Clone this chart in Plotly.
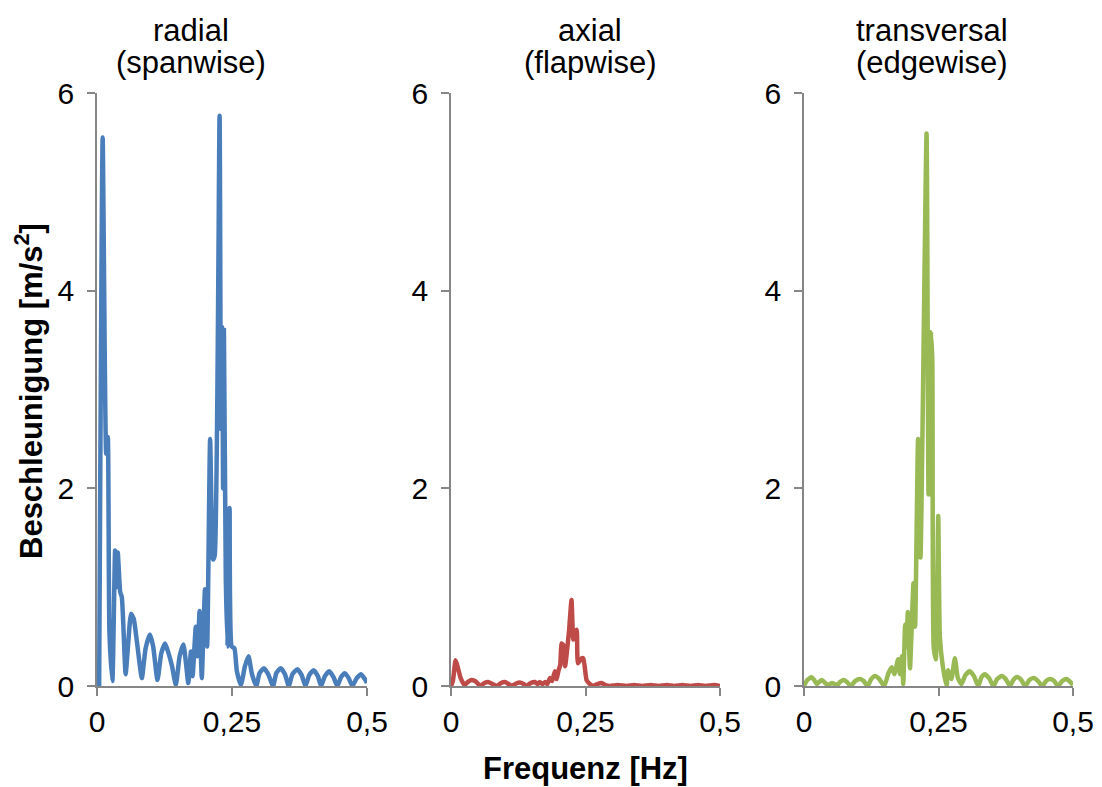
import plotly.graph_objects as go

# Amplitude spectra of blade accelerations (frequency in Hz, amplitude in m/s²)
radial_f = [0.004, 0.0105, 0.017, 0.020, 0.023, 0.0285, 0.0335, 0.036, 0.0385, 0.043, 0.046,
            0.053, 0.058, 0.063, 0.068, 0.075, 0.083, 0.090, 0.098, 0.104, 0.112, 0.119,
            0.126, 0.132, 0.139, 0.146, 0.153, 0.160, 0.165, 0.169, 0.174, 0.177, 0.183,
            0.186, 0.190, 0.194, 0.200, 0.204, 0.2095, 0.215, 0.218, 0.227, 0.2295, 0.232,
            0.2335, 0.235, 0.2385, 0.2415, 0.2455, 0.2495, 0.2545, 0.259, 0.2665, 0.274,
            0.2805, 0.287, 0.295, 0.301, 0.309, 0.317, 0.326, 0.332, 0.340, 0.348, 0.355,
            0.362, 0.371, 0.379, 0.386, 0.393, 0.401, 0.409, 0.415, 0.422, 0.430, 0.438,
            0.445, 0.452, 0.459, 0.466, 0.473, 0.481, 0.489, 0.496, 0.500]
radial_a = [0.00, 5.55, 2.35, 2.52, 0.55, 0.05, 1.37, 1.00, 1.35, 0.95, 0.90,
            0.12, 0.45, 0.73, 0.68, 0.40, 0.08, 0.38, 0.52, 0.40, 0.06, 0.33,
            0.43, 0.34, 0.20, 0.01, 0.30, 0.42, 0.22, 0.03, 0.35, 0.10, 0.60,
            0.30, 0.76, 0.08, 0.98, 0.40, 2.50, 1.28, 1.32, 5.77, 2.60, 3.63,
            2.00, 3.60, 1.10, 0.40, 1.80, 0.40, 0.38, 0.15, 0.01, 0.20,
            0.30, 0.12, 0.00, 0.13, 0.18, 0.12, 0.00, 0.13, 0.18, 0.12, 0.00,
            0.12, 0.17, 0.11, 0.00, 0.11, 0.16, 0.10, 0.00, 0.10, 0.15, 0.09,
            0.00, 0.09, 0.13, 0.08, 0.00, 0.08, 0.12, 0.07, 0.03]

axial_f = [0.000, 0.0035, 0.0085, 0.012, 0.018, 0.025, 0.031, 0.038, 0.0445, 0.049, 0.054,
           0.062, 0.069, 0.077, 0.085, 0.093, 0.100, 0.107, 0.113, 0.121, 0.128, 0.135,
           0.1405, 0.148, 0.156, 0.161, 0.165, 0.170, 0.175, 0.179, 0.184, 0.188, 0.193,
           0.196, 0.200, 0.203, 0.2057, 0.209, 0.212, 0.2193, 0.224, 0.2275, 0.2336, 0.236,
           0.243, 0.246, 0.252, 0.258, 0.264, 0.272, 0.280, 0.287, 0.295, 0.310, 0.326,
           0.340, 0.355, 0.371, 0.386, 0.401, 0.415, 0.430, 0.445, 0.459, 0.473, 0.489, 0.500]
axial_a = [0.00, 0.05, 0.26, 0.20, 0.08, 0.01, 0.04, 0.06, 0.05, 0.03, 0.00,
           0.03, 0.04, 0.02, 0.00, 0.03, 0.04, 0.02, 0.00, 0.025, 0.035, 0.02,
           0.00, 0.03, 0.04, 0.02, 0.04, 0.02, 0.04, 0.02, 0.08, 0.05, 0.15,
           0.07, 0.16, 0.21, 0.43, 0.41, 0.20, 0.55, 0.87, 0.47, 0.57, 0.23,
           0.28, 0.28, 0.06, 0.02, 0.00, 0.02, 0.03, 0.01, 0.00, 0.01, 0.00,
           0.01, 0.00, 0.01, 0.00, 0.01, 0.00, 0.01, 0.00, 0.01, 0.00, 0.01, 0.00]

transversal_f = [0.000, 0.006, 0.0142, 0.019, 0.024, 0.028, 0.033, 0.038, 0.043, 0.048, 0.052,
                 0.057, 0.062, 0.067, 0.073, 0.080, 0.087, 0.095, 0.104, 0.111, 0.118, 0.125,
                 0.132, 0.140, 0.149, 0.157, 0.163, 0.168, 0.175, 0.1785, 0.182, 0.1845,
                 0.188, 0.1905, 0.193, 0.197, 0.2035, 0.2065, 0.212, 0.2165, 0.2278, 0.2315,
                 0.236, 0.2385, 0.241, 0.245, 0.2495, 0.2525, 0.258, 0.265, 0.268, 0.274,
                 0.2804, 0.286, 0.2927, 0.300, 0.308, 0.316, 0.324, 0.330, 0.336, 0.344,
                 0.352, 0.359, 0.367, 0.375, 0.383, 0.389, 0.396, 0.404, 0.411, 0.419,
                 0.427, 0.435, 0.443, 0.450, 0.457, 0.465, 0.472, 0.480, 0.488, 0.495, 0.500]
transversal_a = [0.00, 0.06, 0.09, 0.06, 0.02, 0.04, 0.06, 0.04, 0.01, 0.02, 0.03,
                 0.02, 0.01, 0.04, 0.06, 0.04, 0.00, 0.05, 0.07, 0.05, 0.00, 0.07,
                 0.10, 0.07, 0.00, 0.13, 0.19, 0.12, 0.27, 0.12, 0.30, 0.02,
                 0.62, 0.40, 0.75, 0.18, 1.04, 0.60, 2.50, 1.30, 5.59, 1.94,
                 3.58, 3.30, 0.40, 0.27, 1.72, 0.50, 0.20, 0.00, 0.16, 0.07,
                 0.28, 0.08, 0.02, 0.11, 0.15, 0.10, 0.00, 0.09, 0.12, 0.08,
                 0.00, 0.07, 0.10, 0.07, 0.00, 0.06, 0.09, 0.06, 0.00, 0.06,
                 0.08, 0.05, 0.00, 0.05, 0.07, 0.05, 0.00, 0.05, 0.07, 0.04, 0.01]

panel_titles = [("radial", "(spanwise)"), ("axial", "(flapwise)"), ("transversal", "(edgewise)")]
colors = ["#4A7EBB", "#BE4B48", "#98B954"]
x_tickvals = [0, 0.25, 0.5]
x_ticktext = ["0", "0,25", "0,5"]
y_tickvals = [0, 2, 4, 6]
y_ticktext = ["0", "2", "4", "6"]

W, H = 1102, 787
FONT = "Liberation Sans, Arial, sans-serif"
AXIS_GRAY = "#868686"

# pixel extents of the three plot areas
panel_px = [(97, 367), (451, 720), (804, 1073)]
plot_top, plot_bottom = 93, 686
title_px = [191, 590, 932]

fig = go.Figure()

series = [(radial_f, radial_a), (axial_f, axial_a), (transversal_f, transversal_a)]
for i, ((fx, fy), col) in enumerate(zip(series, colors)):
    n = "" if i == 0 else str(i + 1)
    fig.add_trace(go.Scatter(x=fx, y=fy, mode="lines", xaxis="x" + n, yaxis="y" + n,
                             line=dict(color=col, width=4.5, shape="spline", smoothing=0.5),
                             cliponaxis=False, showlegend=False, hoverinfo="skip"))

layout = dict(template="none", width=W, height=H, margin=dict(l=0, r=0, t=0, b=0, pad=0),
              paper_bgcolor="white", plot_bgcolor="white", showlegend=False,
              font=dict(family=FONT, size=30, color="#000000"))

ydom = [1 - plot_bottom / H, 1 - plot_top / H]
for i, (x0, x1) in enumerate(panel_px):
    n = "" if i == 0 else str(i + 1)
    common = dict(tickmode="array", showline=True, linecolor=AXIS_GRAY, linewidth=1.5,
                  ticks="outside", ticklen=8, tickcolor=AXIS_GRAY, tickwidth=1.5,
                  showgrid=False, zeroline=False, fixedrange=True, automargin=False,
                  tickfont=dict(size=30, family=FONT, color="#000000"))
    layout["xaxis" + n] = dict(domain=[x0 / W, x1 / W], range=[0, 0.5], anchor="y" + n,
                               tickvals=x_tickvals, ticktext=x_ticktext, **common)
    layout["yaxis" + n] = dict(domain=ydom, range=[0, 6], anchor="x" + n,
                               tickvals=y_tickvals, ticktext=y_ticktext,
                               ticklabelstandoff=7, **common)

annotations = []
for (line1, line2), px in zip(panel_titles, title_px):
    for txt, py in ((line1, 31), (line2, 63)):
        annotations.append(dict(text=txt, x=px / W, y=1 - py / H, xref="paper", yref="paper",
                                xanchor="center", yanchor="middle", showarrow=False,
                                font=dict(size=31, family=FONT, color="#000000")))
annotations.append(dict(text="<b>Frequenz [Hz]</b>", x=585 / W, y=1 - 768 / H,
                        xref="paper", yref="paper", xanchor="center", yanchor="middle",
                        showarrow=False, font=dict(size=31, family=FONT, color="#000000")))
annotations.append(dict(text="<b>Beschleunigung [m/s<sup>2</sup>]</b>", x=29 / W,
                        y=1 - 391 / H, xref="paper", yref="paper", xanchor="center",
                        yanchor="middle", textangle=-90, showarrow=False,
                        font=dict(size=31, family=FONT, color="#000000")))
layout["annotations"] = annotations

fig.update_layout(**layout)
fig.write_html("out.html", config={"displayModeBar": False})
